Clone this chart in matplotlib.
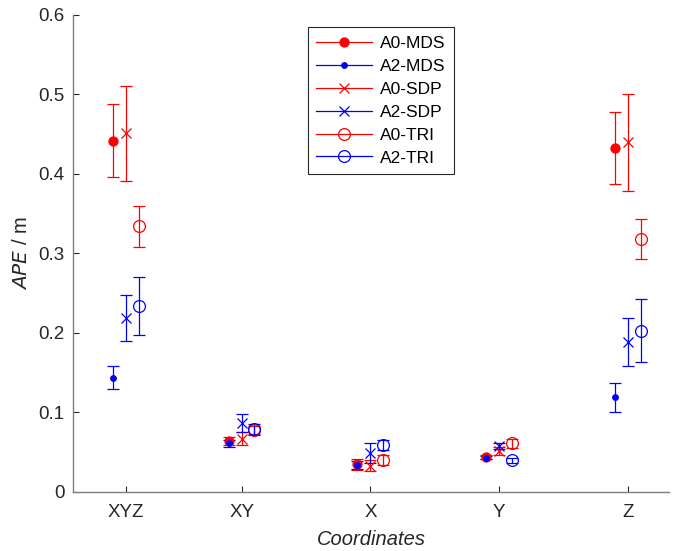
import matplotlib.pyplot as plt
from matplotlib.lines import Line2D
from matplotlib.ticker import FuncFormatter

# Categorias y posiciones en el eje x
categorias = ['XYZ', 'XY', 'X', 'Y', 'Z']
posiciones = [1.0, 1.9, 2.9, 3.9, 4.9]
desfase = 0.1

# Valores medios (APE en metros) y semiamplitud de las barras de error
a0_mds = [0.442, 0.064, 0.035, 0.044, 0.433]
a0_mds_err = [0.046, 0.005, 0.007, 0.002, 0.045]
a2_mds = [0.144, 0.061, 0.034, 0.043, 0.119]
a2_mds_err = [0.015, 0.004, 0.005, 0.002, 0.018]
a0_sdp = [0.451, 0.067, 0.033, 0.051, 0.440]
a0_sdp_err = [0.060, 0.008, 0.007, 0.005, 0.061]
a2_sdp = [0.219, 0.087, 0.049, 0.058, 0.189]
a2_sdp_err = [0.029, 0.011, 0.012, 0.004, 0.030]
a0_tri = [0.334, 0.078, 0.040, 0.061, 0.318]
a0_tri_err = [0.026, 0.005, 0.006, 0.006, 0.025]
a2_tri = [0.234, 0.079, 0.059, 0.040, 0.203]
a2_tri_err = [0.037, 0.007, 0.006, 0.003, 0.040]

series = [
    ('A0-MDS', a0_mds, a0_mds_err, -desfase, 'red', 'o', 6.5, 'red'),
    ('A2-MDS', a2_mds, a2_mds_err, -desfase, 'blue', 'o', 4, 'blue'),
    ('A0-SDP', a0_sdp, a0_sdp_err, 0.0, 'red', 'x', 6.5, 'none'),
    ('A2-SDP', a2_sdp, a2_sdp_err, 0.0, 'blue', 'x', 6.5, 'none'),
    ('A0-TRI', a0_tri, a0_tri_err, desfase, 'red', 'o', 8.5, 'none'),
    ('A2-TRI', a2_tri, a2_tri_err, desfase, 'blue', 'o', 8.5, 'none'),
]

plt.rcParams['font.family'] = ['Liberation Sans', 'DejaVu Sans']

fig = plt.figure(figsize=(6.86, 5.51), dpi=100)
ax = fig.add_axes([0.1064, 0.1071, 0.8688, 0.8657])

manejadores = []
for nombre, valores, errores, dx, color, marca, tam, relleno in series:
    xs = [p + dx for p in posiciones]
    ax.errorbar(xs, valores, yerr=errores, fmt=marca, color=color,
                ecolor=color, elinewidth=0.9, capsize=4, capthick=0.9,
                markersize=tam, markerfacecolor=relleno,
                markeredgecolor=color, markeredgewidth=0.9)
    manejadores.append(Line2D([], [], color=color, lw=0.9, marker=marca,
                              markersize=tam, markerfacecolor=relleno,
                              markeredgecolor=color, markeredgewidth=0.9))

ax.set_xlim(0.59, 5.22)
ax.set_ylim(0, 0.6)
ax.set_xticks(posiciones)
ax.set_xticklabels(categorias)
ax.set_yticks([0, 0.1, 0.2, 0.3, 0.4, 0.5, 0.6])
ax.yaxis.set_major_formatter(FuncFormatter(lambda v, p: '0' if v == 0 else f'{v:g}'))

for lado in ['top', 'right']:
    ax.spines[lado].set_visible(False)
for lado in ['left', 'bottom']:
    ax.spines[lado].set_color('#7f7f7f')
    ax.spines[lado].set_linewidth(1.0)
ax.tick_params(direction='in', length=4, width=0.8, color='#262626',
               labelsize=13.5, labelcolor='#262626', pad=6)
ax.tick_params(axis='x', pad=9)

ax.set_xlabel('Coordinates', fontsize=14.5, style='italic', color='#262626',
              labelpad=6)
ax.set_ylabel('$\\mathit{APE}$ / m', fontsize=14.5, color='#262626',
              labelpad=5)

leyenda = ax.legend(manejadores, [s[0] for s in series], loc='upper left',
                    bbox_to_anchor=(0.394, 0.975), borderaxespad=0,
                    fontsize=12.5, handlelength=3.2, fancybox=False,
                    framealpha=1, edgecolor='#262626', borderpad=0.5,
                    labelspacing=0.45, handletextpad=0.45)
leyenda.get_frame().set_linewidth(0.8)

fig.savefig('out.png', dpi=100)
